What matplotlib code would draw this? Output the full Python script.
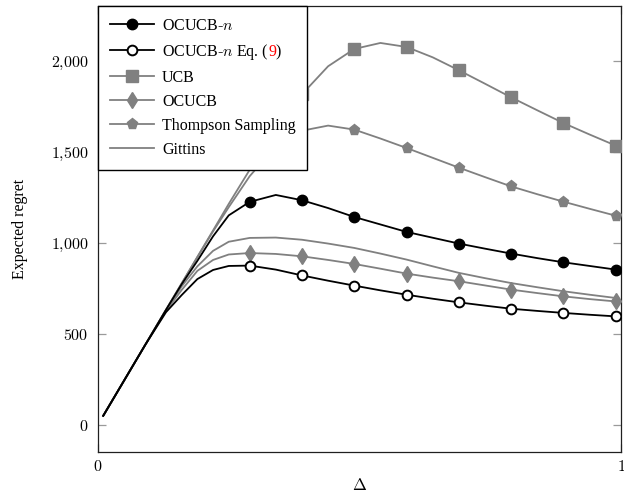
import matplotlib
matplotlib.use("Agg")
import matplotlib.pyplot as plt
from matplotlib.ticker import FixedLocator, FixedFormatter

# ---------------- data ----------------
delta = [0.01, 0.05, 0.09, 0.13, 0.16, 0.19, 0.22, 0.25, 0.29, 0.34, 0.39,
         0.44, 0.49, 0.54, 0.59, 0.64, 0.69, 0.74, 0.79, 0.84, 0.89, 0.94, 0.99]

ocucb_n = [49, 243, 437, 631, 772, 900, 1035, 1150, 1224, 1262, 1233,
           1190, 1141, 1100, 1059, 1027, 995, 967, 940, 915, 892, 872, 852]
ocucb_n_eq = [49, 243, 437, 618, 712, 800, 850, 872, 874, 852, 820,
              791, 764, 738, 714, 692, 672, 654, 637, 625, 614, 604, 595]
ucb = [49, 243, 437, 631, 776, 922, 1067, 1213, 1400, 1630, 1815,
       1969, 2064, 2097, 2075, 2018, 1947, 1873, 1798, 1727, 1657, 1594, 1533]
ocucb = [49, 243, 437, 625, 740, 845, 905, 935, 943, 938, 925,
         905, 883, 857, 830, 808, 788, 765, 742, 723, 705, 690, 677]
thompson = [49, 243, 437, 631, 776, 920, 1062, 1195, 1365, 1530, 1615,
            1643, 1621, 1572, 1520, 1466, 1412, 1360, 1309, 1266, 1225, 1186, 1148]
gittins = [49, 243, 437, 628, 760, 870, 955, 1005, 1026, 1028, 1016,
           995, 971, 940, 907, 870, 834, 805, 778, 755, 733, 714, 696]

ytick_values = [0, 500, 1000, 1500, 2000]
ytick_labels = ["$0$", "$500$", "$1{,}000$", "$1{,}500$", "$2{,}000$"]
xtick_values = [0, 1]
xtick_labels = ["$0$", "$1$"]

labels = ["OCUCB-$n$", "OCUCB-$n$ Eq. (  )", "UCB", "OCUCB",
          "Thompson Sampling", "Gittins"]

# ---------------- style ----------------
plt.rcParams["mathtext.fontset"] = "cm"
plt.rcParams["font.family"] = ["Liberation Serif", "DejaVu Serif"]

GRAY = "#808080"
LW = 1.3
marks = slice(8, None, 2)
marks_late = slice(10, None, 2)

fig = plt.figure(figsize=(6.24, 4.98), dpi=100)
ax = fig.add_axes([98 / 624, 1 - 452 / 498, (621 - 98) / 624, (452 - 6) / 498])

ax.plot(delta, ocucb_n, color="black", lw=LW, marker="o", ms=7.5,
        mfc="black", mec="black", markevery=marks, label=labels[0], zorder=6)
ax.plot(delta, ocucb_n_eq, color="black", lw=LW, marker="o", ms=7,
        mfc="white", mec="black", mew=1.4, markevery=marks, label=labels[1], zorder=6)
ax.plot(delta, ucb, color=GRAY, lw=LW, marker="s", ms=8,
        mfc=GRAY, mec=GRAY, markevery=marks_late, label=labels[2], zorder=4)
ax.plot(delta, ocucb, color=GRAY, lw=LW, marker="d", ms=8.5,
        mfc=GRAY, mec=GRAY, markevery=marks, label=labels[3], zorder=4)
ax.plot(delta, thompson, color=GRAY, lw=LW, marker="p", ms=8,
        mfc=GRAY, mec=GRAY, markevery=marks_late, label=labels[4], zorder=4)
ax.plot(delta, gittins, color=GRAY, lw=LW, label=labels[5], zorder=4)

ax.set_xlim(0, 1)
ax.set_ylim(-150, 2300)

ax.xaxis.set_major_locator(FixedLocator(xtick_values))
ax.xaxis.set_major_formatter(FixedFormatter(xtick_labels))
ax.yaxis.set_major_locator(FixedLocator(ytick_values))
ax.yaxis.set_major_formatter(FixedFormatter(ytick_labels))
ax.tick_params(axis="both", direction="in", length=6, width=0.9,
               color="#9a9a9a", labelsize=11.5, right=True, top=True, pad=7)
ax.tick_params(axis="x", pad=5)
for sp in ax.spines.values():
    sp.set_color("#202020")
    sp.set_linewidth(0.9)

ax.set_xlabel(r"$\Delta$", fontsize=12, labelpad=2)
ax.set_ylabel("Expected regret", fontsize=11.5, labelpad=16)

leg = ax.legend(loc="upper left", borderaxespad=0, fontsize=11.5,
                frameon=True, fancybox=False, edgecolor="black",
                framealpha=1, handlelength=2.75, handletextpad=0.5,
                labelspacing=0.5, borderpad=0.75, numpoints=1)
leg.get_frame().set_linewidth(1.0)
leg.set_zorder(10)

# red equation number inside the second legend entry
fig.canvas.draw()
r = fig.canvas.get_renderer()
t = leg.get_texts()[1]
x0, y0 = t.get_transform().transform(t.get_position())
tmp = fig.text(0, 0, "OCUCB-$n$ Eq. (", fontproperties=t.get_fontproperties())
w = tmp.get_window_extent(r).width
tmp.remove()
fx, fy = fig.transFigure.inverted().transform((x0 + w, y0))
fig.text(fx, fy, "9", color="red", fontproperties=t.get_fontproperties(),
         ha="left", va="baseline", zorder=20)

fig.savefig("out.png", dpi=100)
